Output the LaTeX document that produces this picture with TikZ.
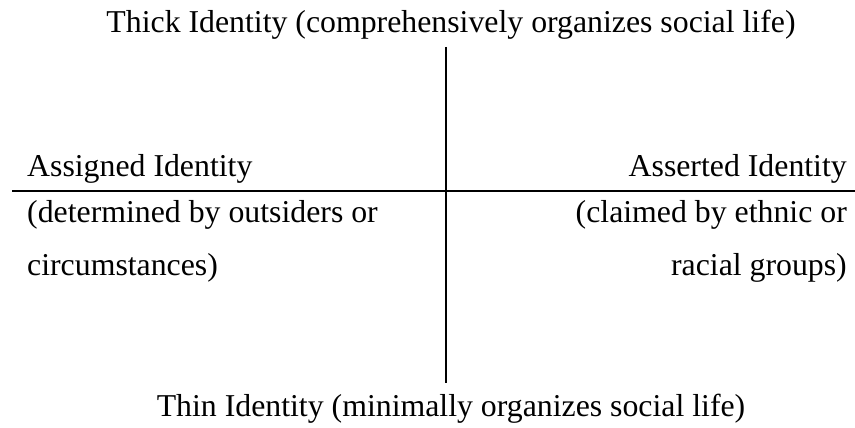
\documentclass[tikz,border=0pt]{standalone}
\usepackage{fontspec}
\setmainfont{Liberation Serif}

\begin{document}
\begin{tikzpicture}[x=1pt,y=-1pt,
  txt/.style={inner sep=0pt,font=\fontsize{31.8}{38}\selectfont}]
  \useasboundingbox (0,0) rectangle (855,428);
  \node[txt,anchor=base] (thick) at (451,33)
    {Thick Identity (comprehensively organizes social life)};
  \node[txt,anchor=base] (thin) at (451,416)
    {Thin Identity (minimally organizes social life)};
  \node[txt,anchor=base west] (assigned) at (27,176) {Assigned Identity};
  \node[txt,anchor=base west] (assigned1) at (27,222) {(determined by outsiders or};
  \node[txt,anchor=base west] (assigned2) at (27,275) {circumstances)};
  \node[txt,anchor=base east] (asserted) at (847,176) {Asserted Identity};
  \node[txt,anchor=base east] (asserted1) at (847,222) {(claimed by ethnic or};
  \node[txt,anchor=base east] (asserted2) at (847,275) {racial groups)};
  \coordinate (top) at (446,47);
  \coordinate (bottom) at (446,383);
  \coordinate (left) at (12,191);
  \coordinate (right) at (855,191);
  \draw[line width=2pt] (top) -- (bottom);
  \draw[line width=2pt] (left) -- (right);
\end{tikzpicture}
\end{document}
